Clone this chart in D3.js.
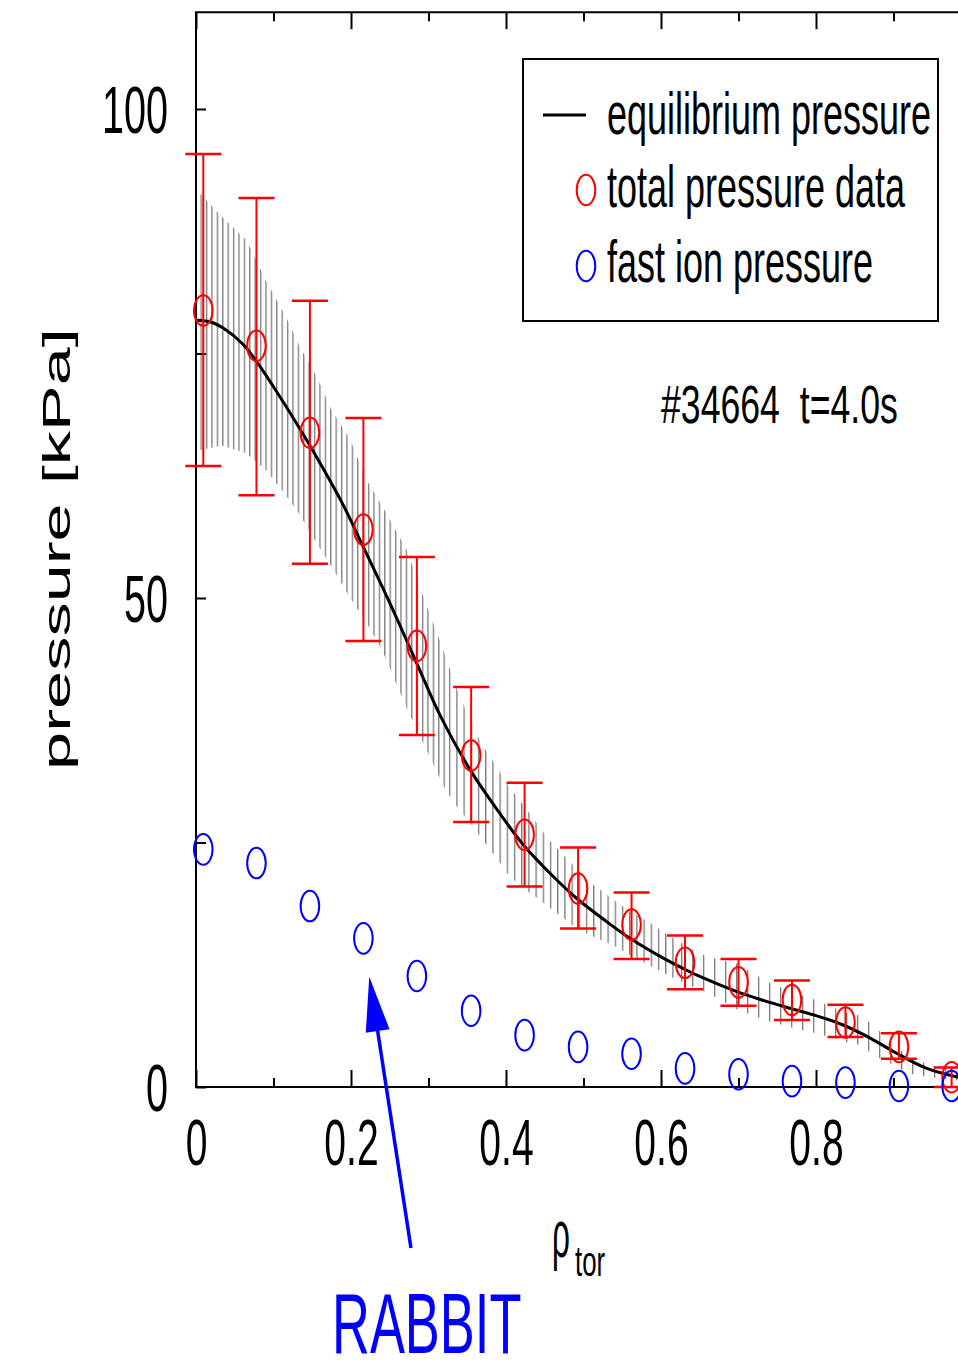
<!DOCTYPE html>
<html><head><meta charset="utf-8">
<script src="https://cdn.jsdelivr.net/npm/d3@7"></script>
<style>body{margin:0;background:#fff}svg{display:block}text{font-family:"Liberation Sans",Arial,Helvetica,sans-serif}</style>
</head><body>
<svg id="c" width="958" height="1362"></svg>
<script>
// ---- data ----
const eqRho = [0,0.02,0.035,0.06,0.078,0.10,0.134,0.16,0.19,0.216,0.25,0.285,0.315,0.354,0.39,0.422,0.46,0.491,0.53,0.56,0.60,0.629,0.65,0.698,0.73,0.766,0.80,0.835,0.87,0.904,0.943,0.981,1.0];
const eqP   = [78.4,78.2,77.6,76.0,74.2,71.6,67.3,63.8,59.5,55.2,49.5,43.3,38.0,32.4,28.2,24.8,21.6,19.3,16.9,15.2,13.3,12.1,11.3,9.75,8.9,8.05,7.3,6.34,5.0,3.45,1.9,1.05,0.8];

const bandRho = [0.005,0.033,0.065,0.09,0.117,0.134,0.156,0.175,0.199,0.22,0.241,0.272,0.295,0.32,0.335,0.351,0.367,0.385,0.402,0.419,0.437,0.455,0.472,0.489,0.504,0.523,0.543,0.564,0.586,0.612,0.642,0.661,0.699,0.736,0.772,0.80,0.838,0.857,0.876,0.893,0.92,0.942,0.96,1.0];
const bandLo  = [65.1,65.6,64.8,63.1,60.4,58.5,55.6,53.2,50.0,47.5,44.5,38.7,34.9,30.7,28.8,27.3,25.6,23.7,21.8,20.5,19.5,18.4,17.4,16.3,15.7,15.0,14.3,13.3,12.4,11.3,10.2,9.6,7.9,6.8,6.0,5.5,4.6,4.3,3.2,2.5,1.4,1.05,0.9,0.5];
const bandHi  = [91.4,89.0,86.6,82.5,78.6,75.7,72.6,69.2,66.2,62.1,59.3,54.9,49.8,44.5,41.0,38.0,35.3,33.1,30.9,29.2,27.3,25.3,23.9,22.5,21.2,20.1,18.9,17.8,16.8,15.4,14.0,13.3,12.6,10.8,9.6,8.9,7.6,7.3,6.2,4.8,3.1,2.4,2.0,1.3];

const dataRho  = [0.0094,0.078,0.147,0.216,0.285,0.355,0.424,0.493,0.562,0.631,0.700,0.769,0.838,0.907,0.975];
const totalP   = [79.4,75.8,66.9,57.0,45.1,33.9,25.8,20.3,16.6,12.7,10.7,8.9,6.6,4.1,1.0];
const totalHi  = [95.4,90.9,80.4,68.4,54.2,40.9,31.1,24.5,19.9,15.5,13.1,10.9,8.4,5.5,2.0];
const totalLo  = [63.5,60.5,53.5,45.6,36.0,27.1,20.5,16.2,13.1,10.0,8.3,6.85,5.1,2.9,0.0];
const fastP    = [24.3,22.9,18.5,15.2,11.35,7.8,5.3,4.1,3.4,1.9,1.3,0.6,0.45,0.1,0.1];

const xTicks = [0,0.1,0.2,0.3,0.4,0.5,0.6,0.7,0.8,0.9,1.0];
const xTickLabels = {"0":"0","0.2":"0.2","0.4":"0.4","0.6":"0.6","0.8":"0.8"};
const yTicks = [0,25,50,75,100];
const yTickLabels = {"0":"0","50":"50","100":"100"};
const legendLabels = ["equilibrium pressure","total pressure data","fast ion pressure"];
const annotation = "#34664\u00a0\u00a0t=4.0s";
const arrowTail = [0.2774,-16.46];
const arrowTip  = [0.2236,11.28];

// ---- drawing ----
const W=958,H=1362;
const svg=d3.select('#c');
svg.append('rect').attr('width',W).attr('height',H).attr('fill','#fff');
const x=d3.scaleLinear().domain([0,1]).range([196,971]);
const y=d3.scaleLinear().domain([0,100]).range([1087,109]);
const yMax=109.9;
const RED='#ff0000', BLUE='#0000ff';
const defs=svg.append('defs');

function stext(parent,tx,ty,str,size,sx,anchor,color){
  const g=parent.append('g').attr('transform',`translate(${tx},${ty}) scale(${sx},1)`);
  return g.append('text').attr('font-size',size).attr('text-anchor',anchor||'start').attr('fill',color||'#000').text(str);
}

// hatched uncertainty band (vertical lines), spacing widening toward edge
const band=bandRho.map((r,i)=>({r,lo:bandLo[i],hi:bandHi[i]}));
const area=d3.area().x(d=>x(d.r)).y0(d=>y(d.lo)).y1(d=>y(d.hi));
const zones=[{from:0,to:0.33,step:5.4},{from:0.33,to:0.62,step:7.2},{from:0.62,to:1.01,step:11}];
zones.forEach((z,i)=>{
  const p=defs.append('pattern').attr('id','h'+i).attr('patternUnits','userSpaceOnUse')
    .attr('x',x(z.from)+4.5).attr('y',0).attr('width',z.step).attr('height',40);
  p.append('line').attr('x1',0.7).attr('x2',0.7).attr('y1',0).attr('y2',40).attr('stroke','#7a7a7a').attr('stroke-width',1.3);
  defs.append('clipPath').attr('id','hc'+i).append('rect')
    .attr('x',x(z.from)).attr('y',0).attr('width',x(z.to)-x(z.from)).attr('height',H);
  svg.append('path').datum(band).attr('d',area).attr('fill',`url(#h${i})`).attr('clip-path',`url(#hc${i})`);
});

// axes
const axG=svg.append('g');
const yAxis=d3.axisLeft(y).tickValues(yTicks).tickSize(-10).tickSizeOuter(0).tickFormat(d=>yTickLabels[String(d)]||'');
const gy=axG.append('g').attr('transform','translate(196,0)').call(yAxis);
gy.select('.domain').remove();
gy.selectAll('line').attr('stroke','#000').attr('stroke-width',2);
gy.selectAll('text').attr('x',0).attr('dy',null).attr('font-size',66).attr('text-anchor','end')
  .attr('font-family','"Liberation Sans",Arial,sans-serif').attr('fill','#000')
  .attr('transform','translate(-28,23) scale(0.6,1)');

const isMajor=d=>Math.abs(Math.round(d*10)%2)===0;
const xAxisB=d3.axisBottom(x).tickValues(xTicks).tickSize(-17).tickSizeOuter(0).tickFormat(d=>xTickLabels[String(+d.toFixed(1))]||'');
const gx=axG.append('g').attr('transform','translate(0,1087)').call(xAxisB);
gx.select('.domain').remove();
gx.selectAll('line').attr('stroke','#000').attr('stroke-width',2).attr('y2',d=>isMajor(d)?-17:-9);
gx.selectAll('text').filter(function(){return this.textContent==='';}).remove();
gx.selectAll('text').attr('y',0).attr('dy',null).attr('font-size',64).attr('text-anchor','middle')
  .attr('font-family','"Liberation Sans",Arial,sans-serif').attr('fill','#000')
  .attr('transform','translate(0,78) scale(0.61,1)');
gy.selectAll('text').filter(function(){return this.textContent==='';}).remove();

const xAxisT=d3.axisTop(x).tickValues(xTicks).tickSize(-17).tickSizeOuter(0).tickFormat('');
const gt=axG.append('g').attr('transform',`translate(0,${y(yMax)})`).call(xAxisT);
gt.select('.domain').remove();
gt.selectAll('text').remove();
gt.selectAll('line').attr('stroke','#000').attr('stroke-width',2).attr('y2',d=>isMajor(d)?17:9);

// frame lines
axG.append('line').attr('x1',x(0)).attr('x2',x(0)).attr('y1',y(yMax)).attr('y2',y(0)).attr('stroke','#000').attr('stroke-width',2);
axG.append('line').attr('x1',x(0)-1).attr('x2',x(1)).attr('y1',y(0)).attr('y2',y(0)).attr('stroke','#000').attr('stroke-width',2.2);
axG.append('line').attr('x1',x(0)-1).attr('x2',x(1)).attr('y1',y(yMax)).attr('y2',y(yMax)).attr('stroke','#000').attr('stroke-width',2);

// equilibrium line
const eq=eqRho.map((r,i)=>[r,eqP[i]]);
svg.append('path').datum(eq).attr('fill','none').attr('stroke','#000').attr('stroke-width',3)
  .attr('d',d3.line().curve(d3.curveCatmullRom.alpha(0.5)).x(d=>x(d[0])).y(d=>y(d[1])));

// total pressure data with error bars
const tot=dataRho.map((r,i)=>({r,p:totalP[i],hi:totalHi[i],lo:totalLo[i]}));
const eb=svg.append('g').attr('stroke',RED).attr('fill','none');
eb.selectAll('.v').data(tot).join('line').attr('x1',d=>x(d.r)).attr('x2',d=>x(d.r)).attr('y1',d=>y(d.hi)).attr('y2',d=>y(d.lo)).attr('stroke-width',2);
eb.selectAll('.ct').data(tot).join('line').attr('x1',d=>x(d.r)-18).attr('x2',d=>x(d.r)+18).attr('y1',d=>y(d.hi)).attr('y2',d=>y(d.hi)).attr('stroke-width',2.5);
eb.selectAll('.cb').data(tot).join('line').attr('x1',d=>x(d.r)-18).attr('x2',d=>x(d.r)+18).attr('y1',d=>y(d.lo)).attr('y2',d=>y(d.lo)).attr('stroke-width',2.5);
eb.selectAll('ellipse').data(tot).join('ellipse').attr('cx',d=>x(d.r)).attr('cy',d=>y(d.p)).attr('rx',9.3).attr('ry',15.3).attr('stroke-width',2);

// fast ion pressure
svg.append('g').selectAll('ellipse').data(dataRho.map((r,i)=>[r,fastP[i]])).join('ellipse')
  .attr('cx',d=>x(d[0])).attr('cy',d=>y(d[1])).attr('rx',9.3).attr('ry',15.3)
  .attr('fill','none').attr('stroke',BLUE).attr('stroke-width',2);

// legend
const lg=svg.append('g');
lg.append('rect').attr('x',523).attr('y',59).attr('width',415).attr('height',262).attr('fill','#fff').attr('stroke','#000').attr('stroke-width',2);
const lY=[134,207,282];
lg.append('line').attr('x1',543).attr('x2',586).attr('y1',lY[0]-19).attr('y2',lY[0]-19).attr('stroke','#000').attr('stroke-width',3);
lg.append('ellipse').attr('cx',586).attr('cy',lY[1]-17).attr('rx',9.3).attr('ry',15.3).attr('fill','none').attr('stroke',RED).attr('stroke-width',2);
lg.append('ellipse').attr('cx',586).attr('cy',lY[2]-16).attr('rx',9.3).attr('ry',15.3).attr('fill','none').attr('stroke',BLUE).attr('stroke-width',2);
legendLabels.forEach((t,i)=>stext(lg,607,lY[i],t,60,0.6,'start'));

// annotation
stext(svg,661,423,annotation,54,0.66,'start');

// axis titles
svg.append('g').attr('transform','translate(70,549) rotate(-90) scale(1.78,1)')
  .append('text').attr('font-size',38.5).attr('text-anchor','middle').text('pressure [kPa]');
stext(svg,552,1257,'\u03c1',67,0.47,'start');
stext(svg,575,1276,'tor',43,0.6,'start');

// RABBIT arrow
const tx0=x(arrowTail[0]),ty0=y(arrowTail[1]),tx1=x(arrowTip[0]),ty1=y(arrowTip[1]);
const L=Math.hypot(tx1-tx0,ty1-ty0),ux=(tx1-tx0)/L,uy=(ty1-ty0)/L;
const hl=55,hw=12;
const bx=tx1-ux*hl,by=ty1-uy*hl;
svg.append('line').attr('x1',tx0).attr('y1',ty0).attr('x2',bx+ux*4).attr('y2',by+uy*4).attr('stroke',BLUE).attr('stroke-width',3.5);
svg.append('polygon').attr('points',[[tx1,ty1],[bx-uy*hw,by+ux*hw],[bx+uy*hw,by-ux*hw]].map(p=>p.join(',')).join(' ')).attr('fill',BLUE);
stext(svg,332,1353,'RABBIT',86,0.61,'start',BLUE);
</script>
</body></html>
